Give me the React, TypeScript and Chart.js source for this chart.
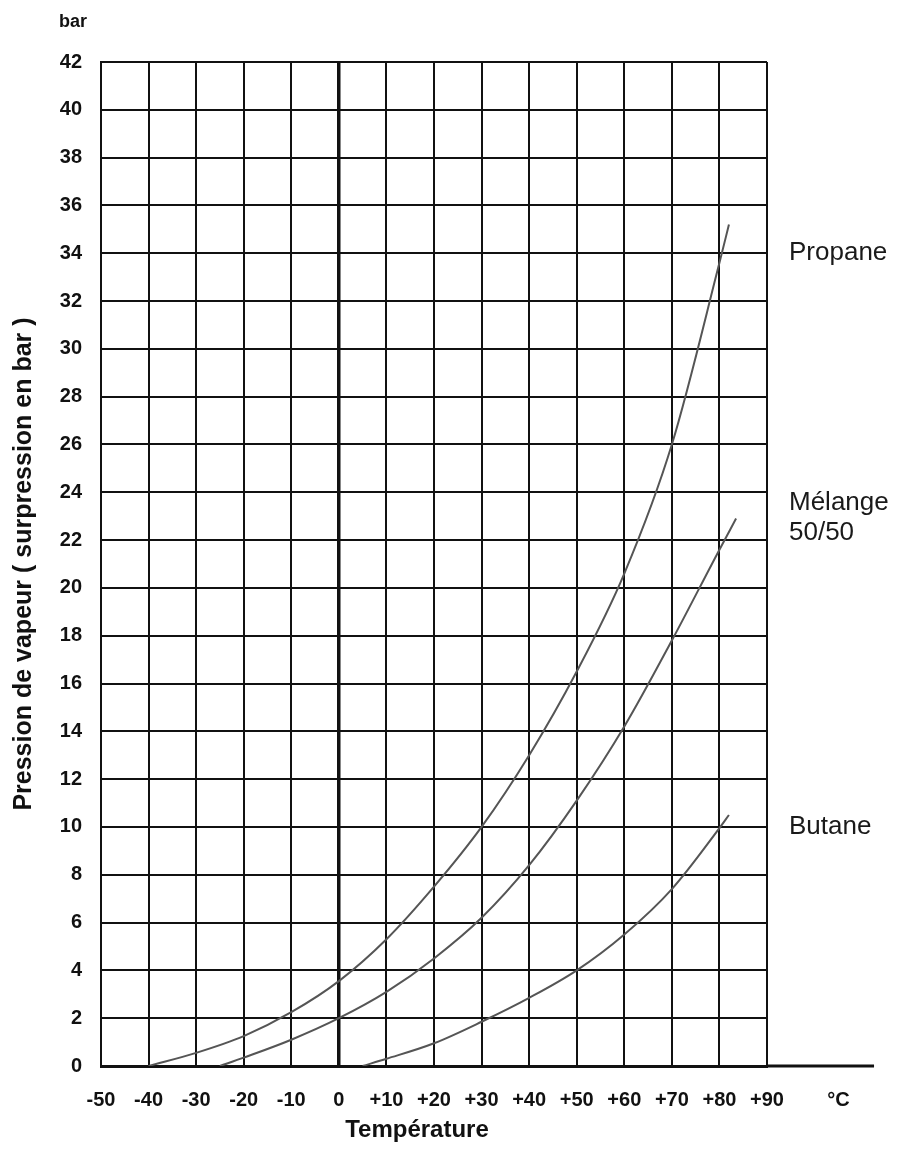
import { useEffect, useRef } from 'react';
import { Chart, registerables } from 'chart.js';

Chart.register(...registerables);

// ---- Data ----
const propaneTemp = [-40, -30, -20, -10, 0, 10, 20, 30, 40, 50, 60, 70, 80, 82];
const propanePressure = [0, 0.55, 1.25, 2.25, 3.55, 5.3, 7.5, 10.0, 13.0, 16.5, 20.6, 26.0, 33.6, 35.2];

const mixTemp = [-25, -20, -10, 0, 10, 20, 30, 40, 50, 60, 70, 80, 83.5];
const mixPressure = [0, 0.35, 1.1, 2.0, 3.1, 4.5, 6.2, 8.4, 11.1, 14.2, 17.8, 21.6, 22.9];

const butaneTemp = [5, 10, 20, 30, 40, 50, 60, 70, 80, 82];
const butanePressure = [0, 0.3, 0.95, 1.85, 2.85, 4.0, 5.5, 7.4, 9.95, 10.5];

const seriesNames = ['Propane', 'Mélange 50/50', 'Butane'];
const curveLabelLines = ['Propane', 'Mélange', '50/50', 'Butane'];
const curveLabelValues = [34, 23.55, 22.3, 10.0];

const xMin = -50;
const xMax = 90;
const xStep = 10;
const yMin = 0;
const yMax = 42;
const yStep = 2;

const yTitle = 'Pression de vapeur ( surpression en bar )';
const xTitle = 'Température';
const yUnit = 'bar';
const xUnit = '°C';

const FONT = '"Liberation Sans", Arial, Helvetica, sans-serif';

const toPoints = (t: number[], p: number[]) => t.map((x, i) => ({ x, y: p[i] }));

const annotationPlugin = {
  id: 'annotations',
  afterDraw(chart: any) {
    const { ctx, chartArea, scales } = chart;
    const xs = scales.x;
    const ys = scales.y;
    ctx.save();
    // extended baseline beyond +90
    ctx.strokeStyle = '#111';
    ctx.lineWidth = 3;
    ctx.beginPath();
    ctx.moveTo(chartArea.right, chartArea.bottom);
    ctx.lineTo(xs.getPixelForValue(112.5), chartArea.bottom);
    ctx.stroke();

    ctx.fillStyle = '#111';
    ctx.textBaseline = 'middle';

    // unit on x axis
    ctx.font = `bold 20px ${FONT}`;
    ctx.textAlign = 'center';
    ctx.fillText(xUnit, xs.getPixelForValue(105), chartArea.bottom + 34);

    // unit on y axis
    ctx.font = `bold 18px ${FONT}`;
    ctx.fillText(yUnit, 73, chartArea.top - 40);

    // x title
    ctx.font = `bold 24px ${FONT}`;
    ctx.fillText(xTitle, 417, chartArea.bottom + 64);

    // curve labels
    ctx.font = `26px ${FONT}`;
    ctx.textAlign = 'left';
    ctx.fillStyle = '#1a1a1a';
    curveLabelLines.forEach((txt, i) => {
      ctx.fillText(txt, chartArea.right + 22, ys.getPixelForValue(curveLabelValues[i]));
    });
    ctx.restore();
  },
};

export default function App() {
  const canvasRef = useRef<HTMLCanvasElement | null>(null);

  useEffect(() => {
    const canvas = canvasRef.current;
    if (!canvas) return;
    const lineStyle = {
      borderColor: '#555555',
      borderWidth: 2,
      pointRadius: 0,
      fill: false,
      cubicInterpolationMode: 'monotone' as const,
    };
    const chart = new Chart(canvas, {
      type: 'line',
      data: {
        datasets: [
          { label: seriesNames[0], data: toPoints(propaneTemp, propanePressure), ...lineStyle },
          { label: seriesNames[1], data: toPoints(mixTemp, mixPressure), ...lineStyle },
          { label: seriesNames[2], data: toPoints(butaneTemp, butanePressure), ...lineStyle },
        ],
      },
      options: {
        animation: false,
        responsive: false,
        devicePixelRatio: 1,
        layout: { padding: { left: 0, top: 62, right: 146, bottom: 0 } },
        plugins: {
          legend: { display: false },
          tooltip: { enabled: false },
        },
        scales: {
          x: {
            type: 'linear',
            min: xMin,
            max: xMax,
            afterFit: (scale: any) => {
              scale.height = 86;
            },
            ticks: {
              stepSize: xStep,
              padding: 22,
              color: '#111',
              font: { family: FONT, size: 20, weight: 'bold' },
              callback: (v: any) => (Number(v) > 0 ? `+${v}` : `${v}`),
              maxRotation: 0,
              autoSkip: false,
            },
            grid: {
              color: '#111',
              lineWidth: (c: any) => (c.tick && c.tick.value === 0 ? 3.5 : 2),
              drawTicks: false,
            },
            border: { display: true, color: '#111', width: 3 },
          },
          y: {
            type: 'linear',
            min: yMin,
            max: yMax,
            afterFit: (scale: any) => {
              scale.width = 101;
            },
            ticks: {
              stepSize: yStep,
              padding: 19,
              color: '#111',
              font: { family: FONT, size: 20, weight: 'bold' },
              autoSkip: false,
            },
            grid: {
              color: '#111',
              lineWidth: 2,
              drawTicks: false,
            },
            border: { display: true, color: '#111', width: 2 },
            title: {
              display: true,
              text: yTitle,
              color: '#111',
              font: { family: FONT, size: 25, weight: 'bold' },
              padding: { top: 9, bottom: 0 },
            },
          },
        },
      },
      plugins: [annotationPlugin],
    });
    return () => chart.destroy();
  }, []);

  return (
    <div style={{ position: 'absolute', left: 0, top: 0, width: 913, height: 1152, background: '#fff' }}>
      <canvas ref={canvasRef} width={913} height={1152} style={{ display: 'block' }} />
    </div>
  );
}
